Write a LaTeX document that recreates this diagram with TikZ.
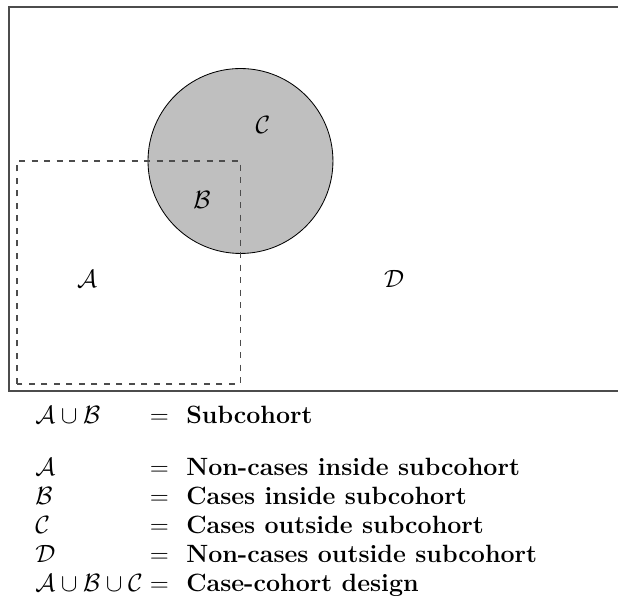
\documentclass[tikz,border=0pt]{standalone}
\begin{document}
\begin{tikzpicture}[
  frame/.style={draw=black!70, line width=0.9pt},
  casearea/.style={circle, draw=black, fill=black!25, minimum size=3.12cm, inner sep=0pt},
  subco/.style={draw=black!70, dashed, line width=0.5pt},
  setlbl/.style={font=\large, inner sep=0pt},
  keytab/.style={font=\large, inner sep=0pt, anchor=base west}
]
  \clip (-0.152,-3.509) rectangle (10.274,6.596);

  % full cohort, open to the right
  \coordinate (frameSW) at (0,0);
  \coordinate (frameNE) at (10.6,6.478);
  \draw[frame] (frameSW) rectangle (frameNE);

  \node[casearea] (cases) at (3.905,3.880) {};
  \coordinate (subSW) at (0.135,0.118);
  \draw[subco] (subSW) rectangle (cases.center);

  \node[setlbl] (lblC) at (4.285,4.487) {$\mathcal{C}$};
  \node[setlbl] (lblB) at (3.256,3.222) {$\mathcal{B}$};
  \node[setlbl] (lblA) at (1.316,1.889) {$\mathcal{A}$};
  \node[setlbl] (lblD) at (6.495,1.889) {$\mathcal{D}$};

  % legend
  \node[keytab] (key) at (0.439,-0.557) {%
    \begin{tabular}[t]{@{}l@{\hspace{0.28em}}l@{}}
      $\mathcal{A}\cup\mathcal{B}$ & $=$\hspace{0.7em}\textbf{Subcohort}\\[10.5pt]
      $\mathcal{A}$ & $=$\hspace{0.7em}\textbf{Non-cases inside subcohort}\\
      $\mathcal{B}$ & $=$\hspace{0.7em}\textbf{Cases inside subcohort}\\
      $\mathcal{C}$ & $=$\hspace{0.7em}\textbf{Cases outside subcohort}\\
      $\mathcal{D}$ & $=$\hspace{0.7em}\textbf{Non-cases outside subcohort}\\
      $\mathcal{A}\cup\mathcal{B}\cup\mathcal{C}$ & $=$\hspace{0.7em}\textbf{Case-cohort design}
    \end{tabular}};
\end{tikzpicture}
\end{document}
